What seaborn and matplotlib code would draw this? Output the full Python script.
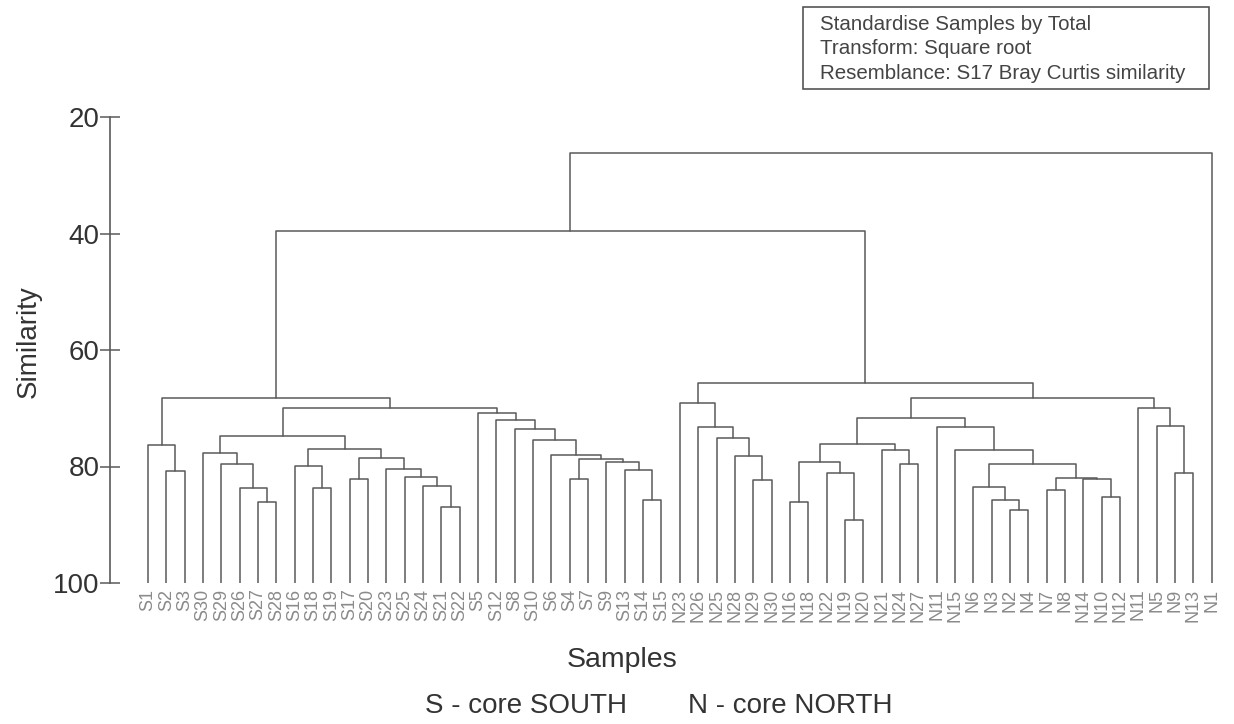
import numpy as np
import pandas as pd
import matplotlib
matplotlib.use("Agg")
import matplotlib.pyplot as plt
import seaborn as sns
from matplotlib.patches import Rectangle

# ---------------- data ----------------
leaf_labels = ["S1", "S2", "S3", "S30", "S29", "S26", "S27", "S28", "S16", "S18",
               "S19", "S17", "S20", "S23", "S25", "S24", "S21", "S22", "S5", "S12",
               "S8", "S10", "S6", "S4", "S7", "S9", "S13", "S14", "S15",
               "N23", "N26", "N25", "N28", "N29", "N30", "N16", "N18", "N22", "N19",
               "N20", "N21", "N24", "N27", "N11", "N15", "N6", "N3", "N2", "N4",
               "N7", "N8", "N14", "N10", "N12", "N11", "N5", "N9", "N13", "N1"]

# merges (scipy-like: indices < n are leaves, n+k is the k-th merge)
merge_left = [1, 0, 6, 5, 4, 3, 9, 8, 11, 16, 15, 14, 13, 67, 66, 64,
              23, 27, 26, 25, 75, 22, 21, 20, 19, 18, 74, 60,
              33, 32, 31, 30, 29, 35, 38, 37, 92, 41, 40, 95,
              47, 46, 45, 49, 52, 51, 102, 101, 44, 43, 98,
              56, 55, 54, 109, 91, 86, 115]
merge_right = [2, 59, 7, 61, 62, 63, 10, 65, 12, 17, 68, 69, 70, 71, 72, 73,
               24, 28, 76, 77, 78, 79, 80, 81, 82, 83, 84, 85,
               34, 87, 88, 89, 90, 36, 39, 93, 94, 42, 96, 97,
               48, 99, 100, 50, 53, 103, 104, 105, 106, 107, 108,
               57, 110, 111, 112, 113, 114, 58]
merge_similarity = [80.7, 76.3, 86.1, 83.7, 79.6, 77.7, 83.7, 79.9, 82.1, 87.0,
                    83.3, 81.8, 80.4, 78.5, 77.0, 74.7,
                    82.1, 85.7, 80.6, 79.3, 78.7, 78.1, 75.4, 73.6, 72.1, 70.8,
                    69.9, 68.2,
                    82.3, 78.2, 75.1, 73.3, 69.1, 86.1, 89.2, 81.1, 79.2, 79.5,
                    77.2, 76.1,
                    87.5, 85.7, 83.6, 84.0, 85.2, 82.2, 81.9, 79.6, 77.1, 73.3,
                    71.6, 81.2, 73.1, 70.0, 68.3, 65.7, 39.6, 26.2]

y_ticks = [20, 40, 60, 80, 100]
box_lines = ["Standardise Samples by Total",
             "Transform: Square root",
             "Resemblance: S17 Bray Curtis similarity"]

# ---------------- build segments ----------------
n = len(leaf_labels)
xpos = [float(i) for i in range(n)]
ypos = [100.0] * n
rows = []
for k, (a, b, h) in enumerate(zip(merge_left, merge_right, merge_similarity)):
    xa, ya, xb, yb = xpos[a], ypos[a], xpos[b], ypos[b]
    rows += [(k, xa, ya), (k, xa, h), (k, xb, h), (k, xb, yb)]
    xpos.append((xa + xb) / 2)
    ypos.append(h)
df = pd.DataFrame(rows, columns=["seg", "x", "y"])

# ---------------- plot ----------------
sns.set_style("ticks")
plt.rcParams["font.family"] = ["Liberation Sans", "DejaVu Sans"]

W, H = 1234, 724
fig = plt.figure(figsize=(W / 100, H / 100), dpi=100)
ax_l, ax_r, ax_t, ax_b = 110, 1225, 117, 583
ax = fig.add_axes([ax_l / W, 1 - ax_b / H, (ax_r - ax_l) / W, (ax_b - ax_t) / H])

line_col = "#5a5a5a"
sns.lineplot(data=df, x="x", y="y", units="seg", estimator=None, sort=False,
             color=line_col, linewidth=1.1, legend=False, ax=ax)

ax.set_ylim(100, 20)
ax.set_xlim(-2.07, -2.07 + (ax_r - ax_l) / 18.34)
ax.set_yticks(y_ticks)
ax.set_yticklabels([str(t) for t in y_ticks], fontsize=20, color="#333333")
ax.tick_params(axis="y", direction="inout", length=15, width=1.1, color=line_col, pad=0)
ax.set_xticks(range(n))
ax.set_xticklabels(leaf_labels, rotation=90, fontsize=13, color="#8a8a8a")
ax.tick_params(axis="x", length=0, pad=4)
sns.despine(ax=ax, top=True, right=True, bottom=True)
ax.spines["left"].set_color(line_col)
ax.spines["left"].set_linewidth(1.2)

ax.set_ylabel("Similarity", fontsize=20, color="#333333")
ax.yaxis.set_label_coords((42 - ax_l) / (ax_r - ax_l), (ax_b - 342) / (ax_b - ax_t))
ax.set_xlabel("Samples", fontsize=20.5, color="#333333")
ax.xaxis.set_label_coords((622 - ax_l) / (ax_r - ax_l), -(647 - ax_b) / (ax_b - ax_t))

fig.text(526 / W, 1 - 706 / H, "S - core SOUTH", fontsize=20, color="#333333",
         ha="center", va="center")
fig.text(790 / W, 1 - 706 / H, "N - core NORTH", fontsize=20, color="#333333",
         ha="center", va="center")

# info box
fig.patches.append(Rectangle((803 / W, 1 - 89 / H), (1209 - 803) / W, (89 - 7) / H,
                             transform=fig.transFigure, fill=False,
                             edgecolor="#555555", linewidth=1.2))
for i, t in enumerate(box_lines):
    fig.text(820 / W, 1 - (30 + 24.5 * i) / H, t, fontsize=14.8, color="#444444",
             ha="left", va="baseline")

fig.savefig("out.png", dpi=100, facecolor="white")
